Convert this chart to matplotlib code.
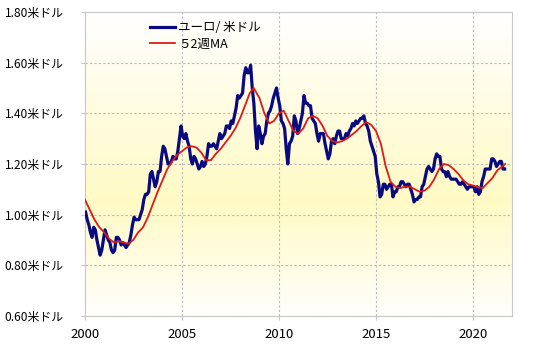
import numpy as np
import matplotlib
matplotlib.use("Agg")
import matplotlib.pyplot as plt

plt.rcParams['font.family'] = ['Noto Sans CJK JP', 'DejaVu Sans']

# ===========================
# Datos (lecturas del gráfico)
# ===========================

start_year = 2000
# ユーロ/米ドル, valores mensuales 2000-01 .. 2021-08
eurusd = [
    1.01, 0.98, 0.96, 0.93, 0.91, 0.95, 0.94, 0.90, 0.87, 0.84, 0.86, 0.90,  # 2000
    0.94, 0.92, 0.90, 0.89, 0.86, 0.85, 0.86, 0.91, 0.91, 0.90, 0.88, 0.89,  # 2001
    0.88, 0.87, 0.88, 0.89, 0.92, 0.96, 0.99, 0.98, 0.98, 0.98, 1.00, 1.02,  # 2002
    1.06, 1.08, 1.08, 1.09, 1.16, 1.17, 1.14, 1.11, 1.13, 1.17, 1.17, 1.23,  # 2003
    1.27, 1.26, 1.23, 1.20, 1.20, 1.21, 1.23, 1.22, 1.22, 1.25, 1.30, 1.35,  # 2004
    1.31, 1.30, 1.32, 1.29, 1.27, 1.22, 1.20, 1.23, 1.22, 1.20, 1.18, 1.19,  # 2005
    1.21, 1.19, 1.20, 1.23, 1.28, 1.27, 1.27, 1.28, 1.27, 1.26, 1.29, 1.32,  # 2006
    1.30, 1.31, 1.32, 1.35, 1.35, 1.34, 1.37, 1.36, 1.39, 1.42, 1.47, 1.46,  # 2007
    1.47, 1.48, 1.55, 1.58, 1.56, 1.56, 1.59, 1.50, 1.44, 1.33, 1.26, 1.35,  # 2008
    1.32, 1.28, 1.31, 1.32, 1.37, 1.40, 1.41, 1.43, 1.46, 1.48, 1.50, 1.46,  # 2009
    1.43, 1.37, 1.36, 1.34, 1.26, 1.20, 1.28, 1.29, 1.31, 1.39, 1.37, 1.32,  # 2010
    1.34, 1.37, 1.40, 1.47, 1.44, 1.44, 1.43, 1.43, 1.38, 1.37, 1.36, 1.32,  # 2011
    1.29, 1.32, 1.32, 1.32, 1.28, 1.25, 1.22, 1.24, 1.29, 1.30, 1.28, 1.31,  # 2012
    1.33, 1.33, 1.30, 1.30, 1.30, 1.32, 1.31, 1.33, 1.34, 1.36, 1.35, 1.37,  # 2013
    1.36, 1.37, 1.38, 1.38, 1.39, 1.36, 1.35, 1.33, 1.29, 1.27, 1.25, 1.23,  # 2014
    1.16, 1.13, 1.07, 1.08, 1.12, 1.12, 1.10, 1.11, 1.12, 1.12, 1.07, 1.09,  # 2015
    1.09, 1.11, 1.11, 1.13, 1.13, 1.12, 1.11, 1.12, 1.12, 1.10, 1.08, 1.05,  # 2016
    1.06, 1.06, 1.07, 1.07, 1.11, 1.12, 1.15, 1.18, 1.19, 1.18, 1.17, 1.18,  # 2017
    1.22, 1.24, 1.23, 1.23, 1.18, 1.17, 1.17, 1.15, 1.17, 1.15, 1.14, 1.14,  # 2018
    1.14, 1.14, 1.13, 1.12, 1.12, 1.13, 1.12, 1.11, 1.10, 1.11, 1.11, 1.11,  # 2019
    1.11, 1.09, 1.11, 1.08, 1.09, 1.13, 1.15, 1.18, 1.18, 1.18, 1.18, 1.22,  # 2020
    1.22, 1.21, 1.19, 1.20, 1.21, 1.21, 1.18, 1.18,                          # 2021
]

# 52週MA (lecturas)
ma_years = [2000.0, 2000.25, 2000.5, 2000.75, 2001.0, 2001.25, 2001.5, 2001.75,
            2002.0, 2002.25, 2002.5, 2002.75, 2003.0, 2003.25, 2003.5, 2003.75,
            2004.0, 2004.25, 2004.5, 2004.75, 2005.0, 2005.25, 2005.5, 2005.75,
            2006.0, 2006.25, 2006.5, 2006.75, 2007.0, 2007.25, 2007.5, 2007.75,
            2008.0, 2008.25, 2008.5, 2008.7, 2009.0, 2009.25, 2009.5, 2009.75,
            2010.0, 2010.25, 2010.5, 2010.75, 2011.0, 2011.25, 2011.5, 2011.75,
            2012.0, 2012.25, 2012.5, 2012.75, 2013.0, 2013.25, 2013.5, 2013.75,
            2014.0, 2014.25, 2014.5, 2014.75, 2015.0, 2015.25, 2015.5, 2015.75,
            2016.0, 2016.25, 2016.5, 2016.75, 2017.0, 2017.25, 2017.5, 2017.75,
            2018.0, 2018.25, 2018.5, 2018.75, 2019.0, 2019.25, 2019.5, 2019.75,
            2020.0, 2020.25, 2020.5, 2020.75, 2021.0, 2021.25, 2021.5, 2021.65]
ma_values = [1.06, 1.02, 0.98, 0.95, 0.93, 0.905, 0.89, 0.895,
             0.89, 0.885, 0.90, 0.93, 0.95, 0.99, 1.04, 1.09,
             1.135, 1.18, 1.21, 1.235, 1.25, 1.265, 1.27, 1.265,
             1.245, 1.215, 1.215, 1.24, 1.26, 1.285, 1.31, 1.34,
             1.38, 1.43, 1.48, 1.50, 1.46, 1.40, 1.36, 1.37,
             1.40, 1.41, 1.37, 1.33, 1.32, 1.34, 1.38, 1.39,
             1.38, 1.35, 1.31, 1.29, 1.285, 1.29, 1.30, 1.315,
             1.33, 1.35, 1.365, 1.355, 1.33, 1.28, 1.19, 1.13,
             1.11, 1.105, 1.11, 1.11, 1.10, 1.09, 1.095, 1.11,
             1.14, 1.18, 1.20, 1.195, 1.18, 1.16, 1.135, 1.12,
             1.115, 1.108, 1.105, 1.125, 1.145, 1.175, 1.19, 1.20]

x_ticks = [2000, 2005, 2010, 2015, 2020]
y_ticks = [0.6, 0.8, 1.0, 1.2, 1.4, 1.6, 1.8]
y_labels = [f"{v:.2f}米ドル" for v in y_ticks]

# ===========================
# Figura
# ===========================

fig = plt.figure(figsize=(5.4, 3.53), dpi=100)
ax = fig.add_axes([0.157, 0.105, 0.791, 0.861])

x_dates = start_year + (np.arange(len(eurusd)) + 0.5) / 12.0

# Fondo degradado blanco -> amarillo -> blanco
yy = np.linspace(0.6, 1.8, 200)
white = np.array([255, 255, 255]) / 255
yellow = np.array([255, 250, 196]) / 255
t = np.interp(yy, [0.6, 1.05, 1.8], [0.05, 1.0, 0.0])
grad = white[None, :] * (1 - t[:, None]) + yellow[None, :] * t[:, None]
ax.imshow(grad[:, None, :], extent=[2000, 2022, 0.6, 1.8], origin='lower',
          aspect='auto', zorder=0)

ax.plot(x_dates, eurusd, color='#0a0a80', lw=2.3, label='ユーロ/ 米ドル', zorder=3)
ax.plot(ma_years, ma_values, color='#dd1a1a', lw=1.3, label='５2週MA', zorder=4)

ax.set_xlim(2000, 2022)
ax.set_ylim(0.6, 1.8)
ax.set_xticks(x_ticks)
ax.set_yticks(y_ticks)
ax.set_yticklabels(y_labels)
ax.grid(True, color='#b8b8b8', linestyle=(0, (2, 2)), lw=0.8, zorder=1)
for s in ax.spines.values():
    s.set_color('#c8c8c8')
ax.tick_params(axis='y', length=3, pad=12, labelsize=8.6, color='#c8c8c8')
ax.tick_params(axis='x', length=3, pad=6, labelsize=9.5, color='#c8c8c8')

ax.legend(loc='upper left', bbox_to_anchor=(0.152, 0.97), frameon=False,
          fontsize=9, borderpad=0, borderaxespad=0, handlelength=2.0,
          handletextpad=0.3, labelspacing=0.3)

fig.savefig('out.png', dpi=100)
